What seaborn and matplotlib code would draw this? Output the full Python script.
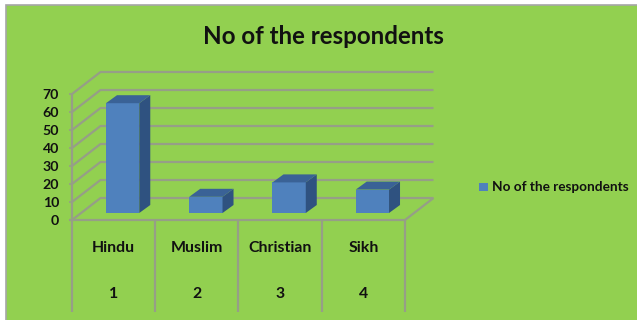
import matplotlib
matplotlib.use("Agg")
import matplotlib.pyplot as plt
from matplotlib.patches import Polygon, Rectangle
import pandas as pd
import seaborn as sns

categories = ["Hindu", "Muslim", "Christian", "Sikh"]
numbers = ["1", "2", "3", "4"]
values = [61, 9, 17, 13]
y_ticks = [0, 10, 20, 30, 40, 50, 60, 70]
series_name = "No of the respondents"
title = "No of the respondents"

W, H = 637, 320
GREEN, GREY = "#92D050", "#969E87"
FRONT, SIDE, TOP = "#4F81BD", "#2F5280", "#3A6296"
FONT = "Lato"

sns.set_theme(style="white")
plt.rcParams["font.family"] = [FONT, "DejaVu Sans"]

fig = plt.figure(figsize=(W / 100, H / 100), dpi=100, facecolor="white")
# chart area with a thin grey border showing on its top and left edges
fig.add_artist(Rectangle((5.5 / W, -0.05), 1.05 - 5.5 / W, 1.05 - 5.5 / H, transform=fig.transFigure,
                         facecolor=GREEN, edgecolor="#A6A6A6", linewidth=1.2, zorder=-5))


def box(x0, x1, ytop, ybot):
    return [x0 / W, 1 - ybot / H, (x1 - x0) / W, (ybot - ytop) / H]


ax = fig.add_axes(box(72, 405, 94, 220))
ax.patch.set_alpha(0)
for s in ax.spines.values():
    s.set_visible(False)
ax.set_xlim(-0.5, 3.5)
ax.set_ylim(0, 70)
ax.set_yticks(y_ticks)
ax.set_yticklabels([str(t) for t in y_ticks], fontsize=10.2, color="#111111", fontweight="bold")
ax.tick_params(axis="y", length=2.2, width=1.2, color=GREY, pad=7, left=True)
ax.set_xticks([])

cat_w = 333 / 4
dx = 28.5 / cat_w
dy = 22 / 1.8
x0, x1 = -0.5, 3.5
line = dict(color=GREY, lw=1.6, clip_on=False, zorder=1, solid_capstyle="butt")
for t in y_ticks:
    ax.plot([x0, x0 + dx, x1 + dx], [t, t + dy, t + dy], **line)
ax.plot([x0, x0], [0, 70], **line)
ax.plot([x0 - 3 / cat_w, x1, x1 + dx], [0, 0, dy], **line)

# multi-level category axis
sep_bottom = -92 / 1.8
for i in range(len(categories) + 1):
    ax.plot([x0 + i, x0 + i], [0, sep_bottom], **line)
for i, (c, n) in enumerate(zip(categories, numbers)):
    ax.text(i, -28.5 / 1.8, c, ha="center", va="center", fontsize=11.4, fontweight="bold", color="#111111")
    ax.text(i, -74.5 / 1.8, n, ha="center", va="center", fontsize=11.4, fontweight="bold", color="#111111")

# bars: same scales, shifted onto the chart floor
bax = fig.add_axes(box(72 + 9, 405 + 9, 94 - 7, 220 - 7))
bax.patch.set_alpha(0)
df = pd.DataFrame({"category": categories, "value": values})
sns.barplot(data=df, x="category", y="value", color=FRONT, saturation=1, width=0.4, ax=bax, zorder=3,
            linewidth=0, edgecolor="none")
bax.set_xlim(-0.5, 3.5)
bax.set_ylim(0, 70)
bax.axis("off")
bdx, bdy = 11 / cat_w, 8 / 1.8
for p in list(bax.patches):
    xa, w, h = p.get_x(), p.get_width(), p.get_height()
    xb = xa + w
    bax.add_patch(Polygon([(xb, 0), (xb + bdx, bdy), (xb + bdx, h + bdy), (xb, h)],
                          facecolor=SIDE, edgecolor="none", zorder=3))
    bax.add_patch(Polygon([(xa, h), (xa + bdx, h + bdy), (xb + bdx, h + bdy), (xb, h)],
                          facecolor=TOP, edgecolor="none", zorder=3))

fig.text(323.5 / W, 1 - 36 / H, title, ha="center", va="center", fontsize=17.4, fontweight="bold", color="#111111")

fig.add_artist(Rectangle((479 / W, 1 - 191 / H), 9 / W, 8 / H, transform=fig.transFigure,
                         facecolor=FRONT, edgecolor="none"))
fig.text(492 / W, 1 - 187 / H, series_name, ha="left", va="center", fontsize=9.8, fontweight="bold", color="#111111")

fig.savefig("out.png", dpi=100)
